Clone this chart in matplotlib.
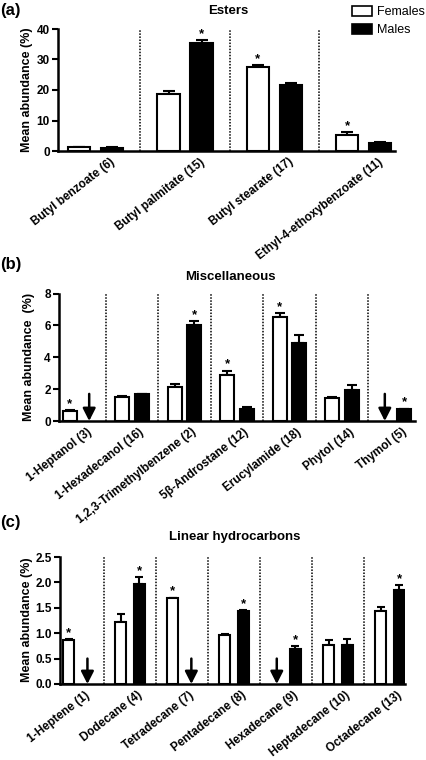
import matplotlib
matplotlib.use('Agg')
import matplotlib.pyplot as plt
import numpy as np
from matplotlib.patches import Patch

plt.rcParams['font.family'] = ['Liberation Sans', 'DejaVu Sans']

nan = np.nan

# ---------------- data ----------------
ester_names = ['Butyl benzoate (6)', 'Butyl palmitate (15)', 'Butyl stearate (17)',
               'Ethyl-4-ethoxybenzoate (11)']
ester_f = [1.3, 18.6, 27.6, 5.4]
ester_f_err = [0.15, 1.0, 0.5, 0.9]
ester_m = [1.1, 35.4, 21.5, 2.6]
ester_m_err = [0.15, 1.1, 0.9, 0.3]
ester_sig = ['', 'M', 'F', 'F']

misc_names = ['1-Heptanol (3)', '1-Hexadecanol (16)', '1,2,3-Trimethylbenzene (2)',
              '5β-Androstane (12)', 'Erucylamide (18)', 'Phytol (14)', 'Thymol (5)']
misc_f = [0.63, 1.52, 2.11, 2.87, 6.54, 1.43, nan]
misc_f_err = [0.04, 0.08, 0.19, 0.29, 0.25, 0.07, nan]
misc_m = [nan, 1.67, 6.05, 0.78, 4.92, 1.92, 0.74]
misc_m_err = [nan, 0.03, 0.20, 0.10, 0.46, 0.36, 0.04]
misc_sig = ['F', '', 'M', 'F', 'F', '', 'M']

lin_names = ['1-Heptene (1)', 'Dodecane (4)', 'Tetradecane (7)', 'Pentadecane (8)',
             'Hexadecane (9)', 'Heptadecane (10)', 'Octadecane (13)']
lin_f = [0.86, 1.23, 1.69, 0.96, nan, 0.77, 1.43]
lin_f_err = [0.02, 0.14, 0.01, 0.02, nan, 0.09, 0.08]
lin_m = [nan, 1.97, nan, 1.44, 0.69, 0.77, 1.86]
lin_m_err = [nan, 0.14, nan, 0.02, 0.06, 0.11, 0.09]
lin_sig = ['F', 'M', 'F', 'M', 'M', '', 'M']

W, H = 427, 760
fig = plt.figure(figsize=(W / 100, H / 100), dpi=100)


def px_axes(l, t, r, b):
    return fig.add_axes([l / W, 1 - b / H, (r - l) / W, (b - t) / H])


def draw(ax, names, f, fe, m, me, sig, width, off, xlim, ylim, yticks, yfmt,
         capsize, arrow_top, lab_off):
    x = np.arange(len(names))
    f = np.array(f, float); fe = np.array(fe, float)
    m = np.array(m, float); me = np.array(me, float)
    for vals, errs, xs, fc, who in ((f, fe, x - off, 'white', 'F'),
                                    (m, me, x + off, 'black', 'M')):
        ok = np.isfinite(vals)
        ax.bar(xs[ok], vals[ok], width, color=fc, edgecolor='black', lw=1.5, zorder=3)
        ax.errorbar(xs[ok], vals[ok], yerr=[np.zeros(ok.sum()), errs[ok]], fmt='none',
                    ecolor='black', elinewidth=1.5, capsize=capsize, capthick=1.5, zorder=2)
        for xi, v, e, s in zip(xs, vals, errs, sig):
            if not np.isfinite(v):
                ax.annotate('', xy=(xi, 0), xytext=(xi, arrow_top),
                            arrowprops=dict(arrowstyle='-|>,head_width=0.38,head_length=0.75',
                                            lw=1.8, color='black', shrinkA=0, shrinkB=0,
                                            mutation_scale=10), zorder=4)
            elif s == who:
                ax.annotate('*', xy=(xi, v + e), xytext=(0, 0), textcoords='offset points',
                            ha='center', va='bottom', fontsize=9.5, fontweight='bold')
    for i in range(len(names) - 1):
        ax.axvline(i + 0.5, color='black', lw=1.1, ls=(0, (1, 1)), zorder=1)
    ax.set_xlim(*xlim)
    ax.set_ylim(*ylim)
    ax.set_yticks(yticks)
    ax.set_yticklabels([yfmt.format(v) for v in yticks], fontweight='bold', fontsize=8.5)
    ax.set_xticks(x + lab_off)
    ax.set_xticklabels(names, rotation=38, ha='right', va='center',
                       rotation_mode='anchor', fontweight='bold', fontsize=8.5)
    ax.tick_params(axis='x', length=0, pad=7)
    ax.tick_params(axis='y', length=4, width=1.5, direction='out', pad=2)
    for s in ('top', 'right'):
        ax.spines[s].set_visible(False)
    for s in ('left', 'bottom'):
        ax.spines[s].set_linewidth(1.8)


ax_a = px_axes(58, 29, 395, 151)
draw(ax_a, ester_names, ester_f, ester_f_err, ester_m, ester_m_err, ester_sig,
     0.25, 0.185, (-0.424, 3.353), (0, 40), [0, 10, 20, 30, 40], '{:.0f}', 4.5, 0, 0.2)

ax_b = px_axes(59, 293.5, 415, 421)
draw(ax_b, misc_names, misc_f, misc_f_err, misc_m, misc_m_err, misc_sig,
     0.267, 0.185, (-0.39, 6.39), (0, 8), [0, 2, 4, 6, 8], '{:.0f}', 3.6, 1.7, 0.2)

ax_c = px_axes(60, 557, 405, 684)
draw(ax_c, lin_names, lin_f, lin_f_err, lin_m, lin_m_err, lin_sig,
     0.21, 0.178, (-0.35, 6.29), (0, 2.5), [0, 0.5, 1.0, 1.5, 2.0, 2.5], '{:.1f}', 3.2, 0.5, 0.2)

# titles
fig.text(228 / W, 1 - 11 / H, 'Esters', ha='center', va='center', fontsize=9.5, fontweight='bold')
fig.text(230 / W, 1 - 277 / H, 'Miscellaneous', ha='center', va='center', fontsize=9.5, fontweight='bold')
fig.text(235 / W, 1 - 537 / H, 'Linear hydrocarbons', ha='center', va='center', fontsize=9.5, fontweight='bold')

# panel labels
for lab, y in (('(a)', 10), ('(b)', 265), ('(c)', 522)):
    fig.text(0 / W, 1 - y / H, lab, ha='left', va='center', fontsize=12, fontweight='bold')

# y labels
fig.text(27 / W, 1 - 90 / H, 'Mean abundance (%)', rotation=90, ha='center', va='center',
         fontsize=9, fontweight='bold')
fig.text(29 / W, 1 - 357 / H, 'Mean abundance  (%)', rotation=90, ha='center', va='center',
         fontsize=9, fontweight='bold')
fig.text(27 / W, 1 - 620 / H, 'Mean abundance (%)', rotation=90, ha='center', va='center',
         fontsize=9, fontweight='bold')

# legend
handles = [Patch(facecolor='white', edgecolor='black', lw=1.2),
           Patch(facecolor='black', edgecolor='black', lw=1.2)]
fig.legend(handles, ['Females', 'Males'], loc='upper right', bbox_to_anchor=(1.0, 0.995),
           frameon=False, fontsize=9, handlelength=1.6, handleheight=0.8,
           handletextpad=0.35, labelspacing=0.45, borderaxespad=0.1, borderpad=0.1)

fig.savefig('out.png', dpi=100)
